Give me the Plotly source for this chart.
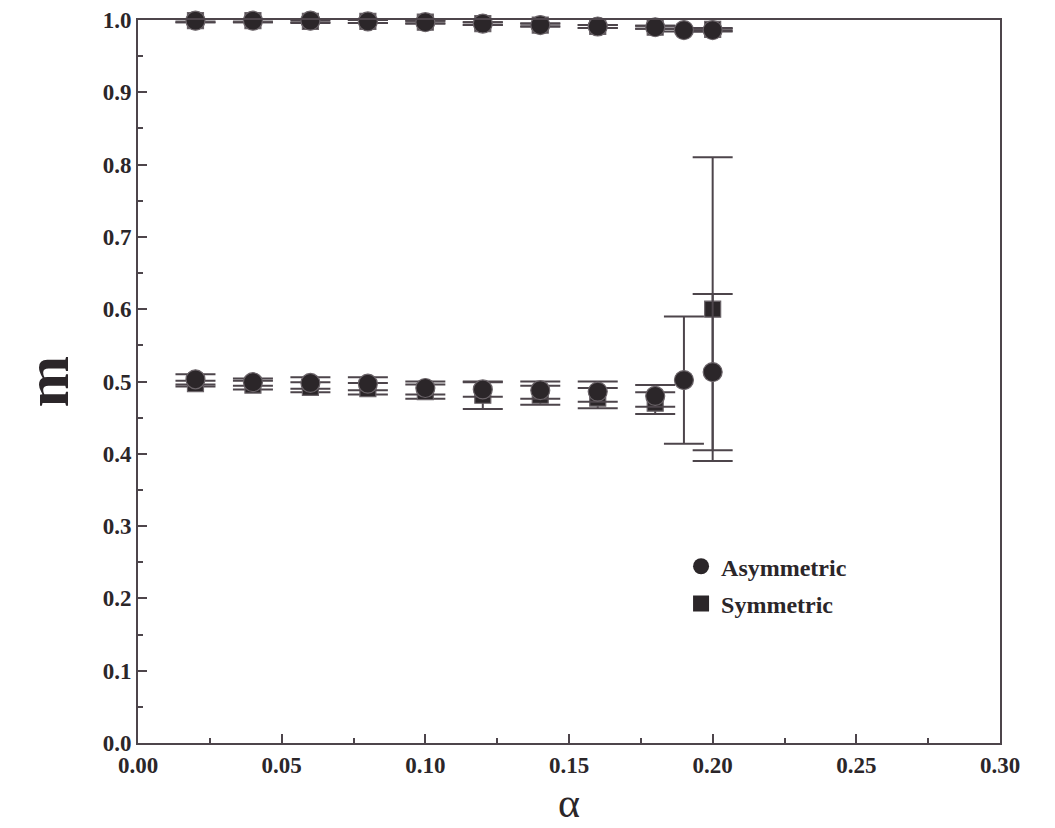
import plotly.graph_objects as go

# Storage parameter alpha for each simulation run
alpha_asym = [0.02, 0.04, 0.06, 0.08, 0.10, 0.12, 0.14, 0.16, 0.18, 0.19, 0.20]
alpha_sym = [0.02, 0.04, 0.06, 0.08, 0.10, 0.12, 0.14, 0.16, 0.18, 0.20]

# Overlap m: retrieval branch (near 1) and mixture branch (near 0.5)
m_asym_high = [0.999, 0.999, 0.999, 0.998, 0.997, 0.995, 0.993, 0.991, 0.990, 0.986, 0.986]
err_asym_high = [0.002, 0.002, 0.002, 0.002, 0.002, 0.002, 0.002, 0.002, 0.002, 0.002, 0.002]
m_sym_high = [0.999, 0.999, 0.998, 0.998, 0.997, 0.995, 0.993, 0.991, 0.990, 0.987]
err_sym_high = [0.002, 0.002, 0.002, 0.002, 0.002, 0.002, 0.002, 0.002, 0.002, 0.002]

m_asym_low = [0.503, 0.499, 0.498, 0.497, 0.491, 0.489, 0.488, 0.486, 0.480, 0.502, 0.513]
err_asym_low = [0.007, 0.005, 0.008, 0.009, 0.009, 0.010, 0.012, 0.014, 0.015, 0.088, 0.108]
m_sym_low = [0.497, 0.495, 0.492, 0.490, 0.486, 0.481, 0.481, 0.477, 0.470, 0.600]
err_sym_low = [0.004, 0.006, 0.007, 0.008, 0.010, 0.019, 0.013, 0.014, 0.015, 0.210]

x_ticks = [0.00, 0.05, 0.10, 0.15, 0.20, 0.25, 0.30]
y_ticks = [0.0, 0.1, 0.2, 0.3, 0.4, 0.5, 0.6, 0.7, 0.8, 0.9, 1.0]

INK = "#2b2629"
FRAME = "#4d454b"
FONT = "Liberation Serif"

fig = go.Figure()


def add_branch(x, y, err, symbol, size, name):
    fig.add_trace(go.Scatter(
        x=x, y=y, mode="markers", name=name, showlegend=False,
        cliponaxis=False,
        marker=dict(symbol=symbol, size=size, color=INK,
                    line=dict(color="#6a6368", width=1.2)),
        error_y=dict(type="data", array=err, visible=True,
                     color=FRAME, thickness=2, width=20),
    ))


add_branch(alpha_sym, m_sym_low, err_sym_low, "square", 16, "Symmetric")
add_branch(alpha_asym, m_asym_low, err_asym_low, "circle", 19, "Asymmetric")
add_branch(alpha_sym, m_sym_high, err_sym_high, "square", 16, "Symmetric")
add_branch(alpha_asym, m_asym_high, err_asym_high, "circle", 19, "Asymmetric")

# Legend entries (markers only)
fig.add_trace(go.Scatter(x=[None], y=[None], mode="markers", name="Asymmetric",
                         legendgroup="a",
                         marker=dict(symbol="circle", size=19, color=INK)))
fig.add_trace(go.Scatter(x=[None], y=[None], mode="markers", name="Symmetric",
                         legendgroup="s",
                         marker=dict(symbol="square", size=16, color=INK)))

axis_common = dict(
    showline=True, linecolor=FRAME, linewidth=2, mirror=True,
    ticks="inside", tickcolor=FRAME, tickwidth=1.5, ticklen=9,
    showgrid=False, zeroline=False, automargin=False,
    tickfont=dict(family=FONT, size=23, color=INK, weight="bold"),
)

fig.update_xaxes(
    range=[0, 0.30], tickvals=x_ticks, tickformat=".2f",
    minor=dict(dtick=0.025, ticks="inside", ticklen=5, tickcolor=FRAME),
    **axis_common,
)
fig.update_yaxes(
    range=[0, 1.0], tickvals=y_ticks, tickformat=".1f",
    minor=dict(dtick=0.05, ticks="inside", ticklen=5, tickcolor=FRAME),
    **axis_common,
)

# Axis titles
fig.add_annotation(text="α", xref="paper", yref="paper", x=0.5, y=0,
                   yshift=-85, yanchor="bottom", showarrow=False,
                   font=dict(family=FONT, size=42, color=INK))
fig.add_annotation(text="<b>m</b>", xref="paper", yref="paper", x=0, y=0.5,
                   xshift=-92, xanchor="center", textangle=-90, showarrow=False,
                   font=dict(family=FONT, size=62, color=INK))

fig.update_layout(
    width=1055, height=828,
    margin=dict(l=138, r=55, t=20, b=85),
    paper_bgcolor="white", plot_bgcolor="white",
    font=dict(family=FONT, color=INK),
    legend=dict(x=0.63, y=0.275, xanchor="left", yanchor="top",
                bgcolor="rgba(0,0,0,0)", itemwidth=30,
                traceorder="grouped", tracegroupgap=3,
                font=dict(family=FONT, size=24, color=INK, weight="bold")),
)

fig.write_html("out.html")
